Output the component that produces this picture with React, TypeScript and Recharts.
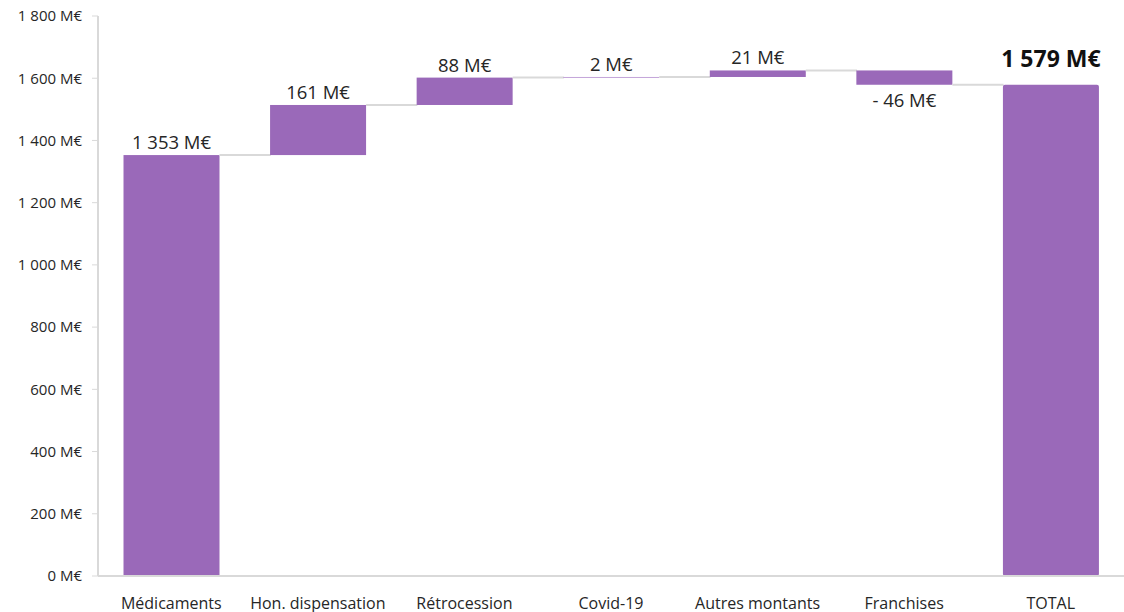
import React from 'react';
import { BarChart, Bar, XAxis, YAxis, LabelList } from 'recharts';

const categories = ['Médicaments', 'Hon. dispensation', 'Rétrocession', 'Covid-19', 'Autres montants', 'Franchises', 'TOTAL'];
const deltas = [1353, 161, 88, 2, 21, -46, 1579];
const totalFlags = [false, false, false, false, false, false, true];
const yTicks = [0, 200, 400, 600, 800, 1000, 1200, 1400, 1600, 1800];

const BAR_COLOR = '#9A69B9';
const CONNECTOR = '#D9D9D9';
const TEXT = '#262626';
const FONT = '"Open Sans", sans-serif';
const GAP_RATIO = 0.174;

const data = (() => {
  let running = 0;
  return categories.map((name, i) => {
    const d = deltas[i];
    if (totalFlags[i]) {
      return { name, range: [0, d], delta: d, total: true, last: i === categories.length - 1 };
    }
    const start = running;
    const end = running + d;
    running = end;
    return { name, range: [Math.min(start, end), Math.max(start, end)], delta: d, total: false, last: i === categories.length - 1 };
  });
})();

const fmt = (v: number) => {
  const s = Math.abs(Math.round(v)).toString().replace(/\B(?=(\d{3})+(?!\d))/g, ' ');
  return (v < 0 ? '- ' : '') + s + ' M€';
};

const WaterfallShape = (props: any) => {
  const { x, y, width, height, payload } = props;
  const h = Math.max(height, 0.8);
  const gap = (width * 2 * GAP_RATIO) / (1 - 2 * GAP_RATIO);
  const levelY = payload.delta >= 0 ? y : y + height;
  const isThin = payload.delta > 0 && height < 2;
  return (
    <g>
      <rect
        x={x}
        y={y}
        width={width}
        height={h}
        fill={isThin ? '#B58FD0' : BAR_COLOR}
        rx={payload.total ? 2 : 0}
      />
      {!payload.last && (
        <line x1={x + width} x2={x + width + gap} y1={levelY} y2={levelY} stroke={CONNECTOR} strokeWidth={2} />
      )}
    </g>
  );
};

const renderLabel = (props: any) => {
  const { x, y, width, height, index } = props;
  const d = data[index];
  const cx = x + width / 2;
  if (d.total) {
    return (
      <text x={cx} y={y - 18} textAnchor="middle" fontFamily={FONT} fontSize={23} fontWeight={700} fill="#111">
        {fmt(d.delta)}
      </text>
    );
  }
  if (d.delta < 0) {
    return (
      <text x={cx} y={y + height + 22} textAnchor="middle" fontFamily={FONT} fontSize={18.5} fill={TEXT}>
        {fmt(d.delta)}
      </text>
    );
  }
  return (
    <text x={cx} y={y - 6} textAnchor="middle" fontFamily={FONT} fontSize={18.5} fill={TEXT}>
      {fmt(d.delta)}
    </text>
  );
};

export default function App() {
  return (
    <div style={{ position: 'absolute', left: 0, top: 0, background: '#fff' }}>
      <BarChart
        width={1124}
        height={612}
        data={data}
        margin={{ top: 16, right: 0, left: 0, bottom: 0 }}
        barCategoryGap={`${GAP_RATIO * 100}%`}
      >
        <XAxis
          dataKey="name"
          height={36}
          tickLine={false}
          axisLine={{ stroke: '#D9D9D9', strokeWidth: 2 }}
          tick={{ fontFamily: FONT, fontSize: 16, fill: TEXT }}
          tickMargin={16}
          interval={0}
        />
        <YAxis
          width={98}
          domain={[0, 1800]}
          ticks={yTicks}
          interval={0}
          tickFormatter={(v: number) => fmt(v)}
          axisLine={{ stroke: '#D9D9D9', strokeWidth: 2 }}
          tickLine={{ stroke: '#D9D9D9' }}
          tickSize={6}
          tickMargin={10}
          tick={{ fontFamily: FONT, fontSize: 15, fill: TEXT }}
        />
        <Bar dataKey="range" shape={WaterfallShape} isAnimationActive={false}>
          <LabelList dataKey="range" content={renderLabel} />
        </Bar>
      </BarChart>
    </div>
  );
}
